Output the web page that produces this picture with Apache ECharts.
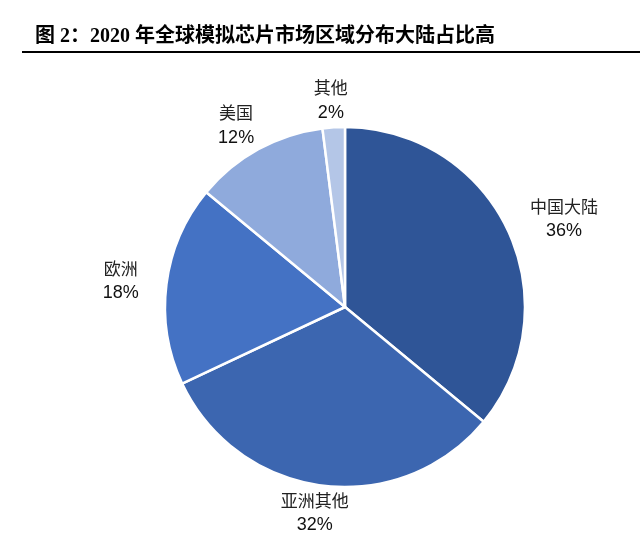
<!DOCTYPE html>
<html>
<head>
<meta charset="utf-8">
<script src="https://cdn.jsdelivr.net/npm/echarts@6/dist/echarts.min.js"></script>
<style>
html,body{margin:0;padding:0;background:#fff;}
#chart{width:640px;height:554px;}
</style>
</head>
<body>
<div id="chart"></div>
<script>
const titleText = '图 2：2020 年全球模拟芯片市场区域分布大陆占比高';
const categories = ['中国大陆', '亚洲其他', '欧洲', '美国', '其他'];
const values = [36, 32, 18, 12, 2];
const colors = ['#2F5597', '#3C66B0', '#4472C4', '#8FAADC', '#B4C6E7'];

const CENTER = [345, 307];
const RADIUS = 180;
const total = values.reduce((a, b) => a + b, 0);
const cum = [];
values.reduce((acc, v, i) => { cum[i] = acc; return acc + v; }, 0);

const chart = echarts.init(document.getElementById('chart'));
chart.setOption({
  backgroundColor: '#fff',
  animation: false,
  title: {
    text: titleText,
    left: 35,
    top: 27,
    padding: 0,
    textStyle: {
      fontFamily: '"Liberation Serif", "Noto Sans CJK SC", serif',
      fontWeight: 'bold',
      fontSize: 20,
      color: '#000'
    }
  },
  graphic: [{
    type: 'line',
    shape: { x1: 22, y1: 52, x2: 640, y2: 52 },
    style: { stroke: '#000', lineWidth: 2 }
  }],
  series: [{
    type: 'pie',
    center: CENTER,
    radius: RADIUS,
    startAngle: 90,
    clockwise: true,
    itemStyle: { borderColor: '#fff', borderWidth: 2.5 },
    label: {
      show: true,
      position: 'outside',
      formatter: p => '{a|' + p.name + '}\n{b|' + p.value + '%}',
      rich: {
        a: { fontFamily: '"Noto Sans CJK SC", sans-serif', fontSize: 17, color: '#222', lineHeight: 25, align: 'center' },
        b: { fontFamily: '"Liberation Sans", Arial, sans-serif', fontSize: 18, color: '#111', lineHeight: 25, align: 'center' }
      }
    },
    labelLine: { show: false },
    labelLayout: function (params) {
      const i = params.dataIndex;
      const frac = (cum[i] + values[i] / 2) / total;
      const th = frac * Math.PI * 2;
      const ux = Math.sin(th), uy = -Math.cos(th);
      const w = params.labelRect.width, h = params.labelRect.height;
      const p0x = CENTER[0] + ux * RADIUS, p0y = CENTER[1] + uy * RADIUS;
      return {
        x: p0x + ux * (28 + w / 2),
        y: p0y + uy * (6 + h / 2),
        align: 'center',
        verticalAlign: 'middle'
      };
    },
    data: categories.map((c, i) => ({ name: c, value: values[i], itemStyle: { color: colors[i] } }))
  }]
});
</script>
</body>
</html>
